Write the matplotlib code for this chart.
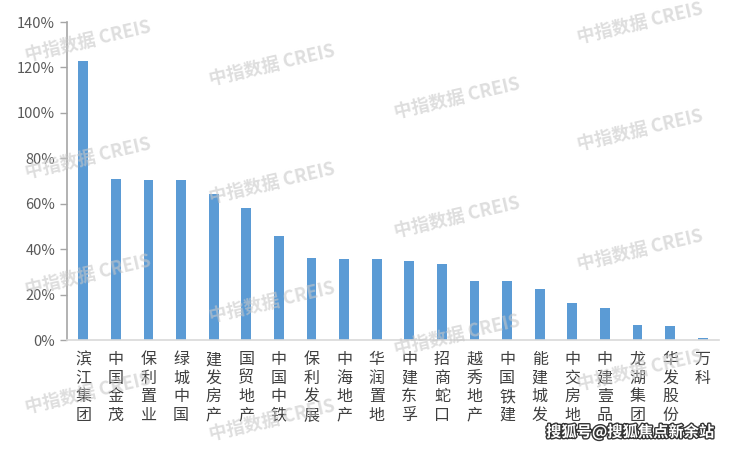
import matplotlib
matplotlib.use("Agg")
import matplotlib.pyplot as plt
import matplotlib.patheffects as pe
from matplotlib.ticker import FuncFormatter

plt.rcParams["font.family"] = ["Noto Sans CJK SC", "DejaVu Sans"]

# data
companies = ["滨江集团", "中国金茂", "保利置业", "绿城中国", "建发房产", "国贸地产",
             "中国中铁", "保利发展", "中海地产", "华润置地", "中建东孚", "招商蛇口",
             "越秀地产", "中国铁建", "能建城发", "中交房地", "中建壹品", "龙湖集团",
             "华发股份", "万科"]
values = [122.8, 70.8, 70.3, 70.3, 64.2, 58.0, 45.6, 35.9, 35.5, 35.5,
          34.6, 33.3, 25.8, 25.8, 22.3, 16.5, 13.9, 6.8, 6.0, 0.7]
yticks = [0, 20, 40, 60, 80, 100, 120, 140]

# watermark centres in pixels (x, y from top)
marks = [(88, 41), (88, 158), (88, 275), (88, 393),
         (272, 65), (272, 183), (272, 302), (272, 420),
         (457, 98), (457, 217), (457, 335),
         (640, 23), (640, 130), (640, 250), (640, 370)]

W, H = 730, 449
fig = plt.figure(figsize=(W / 100, H / 100), dpi=100)
ax = fig.add_axes([67 / W, 1 - 340 / H, 652 / W, 318 / H])

x = list(range(len(companies)))
ax.bar(x, values, width=0.3, color="#5B9BD5", zorder=2)

ax.set_xlim(-0.5, len(companies) - 0.5)
ax.set_ylim(0, 140)
ax.set_yticks(yticks)
ax.yaxis.set_major_formatter(FuncFormatter(lambda v, p: f"{v:.0f}%"))
ax.tick_params(axis="y", colors="#595959", labelsize=10.5, length=5,
               direction="out", width=1)
ax.tick_params(axis="y", color="#a6a6a6")
ax.set_xticks(x)
ax.set_xticklabels(["\n".join(c) for c in companies], fontsize=11.5,
                   color="#404040", linespacing=1.12)
ax.tick_params(axis="x", length=0, pad=8)

for s in ["top", "right"]:
    ax.spines[s].set_visible(False)
ax.spines["left"].set_color("#a6a6a6")
ax.spines["left"].set_linewidth(1.2)
ax.spines["bottom"].set_color("#d9d9d9")
ax.spines["bottom"].set_linewidth(1.2)

for mx, my in marks:
    fig.text(mx / W, 1 - my / H, "中指数据 CREIS", fontsize=13, fontweight="bold",
             color="#c8c8c8", alpha=0.6, rotation=13, ha="center", va="center",
             zorder=5)

fig.text(630 / W, 1 - 432 / H, "搜狐号@搜狐焦点新余站", fontsize=11, color="white",
         ha="center", va="center", fontweight="bold",
         path_effects=[pe.withStroke(linewidth=2, foreground="#333333")])

fig.savefig("out.png", dpi=100)
